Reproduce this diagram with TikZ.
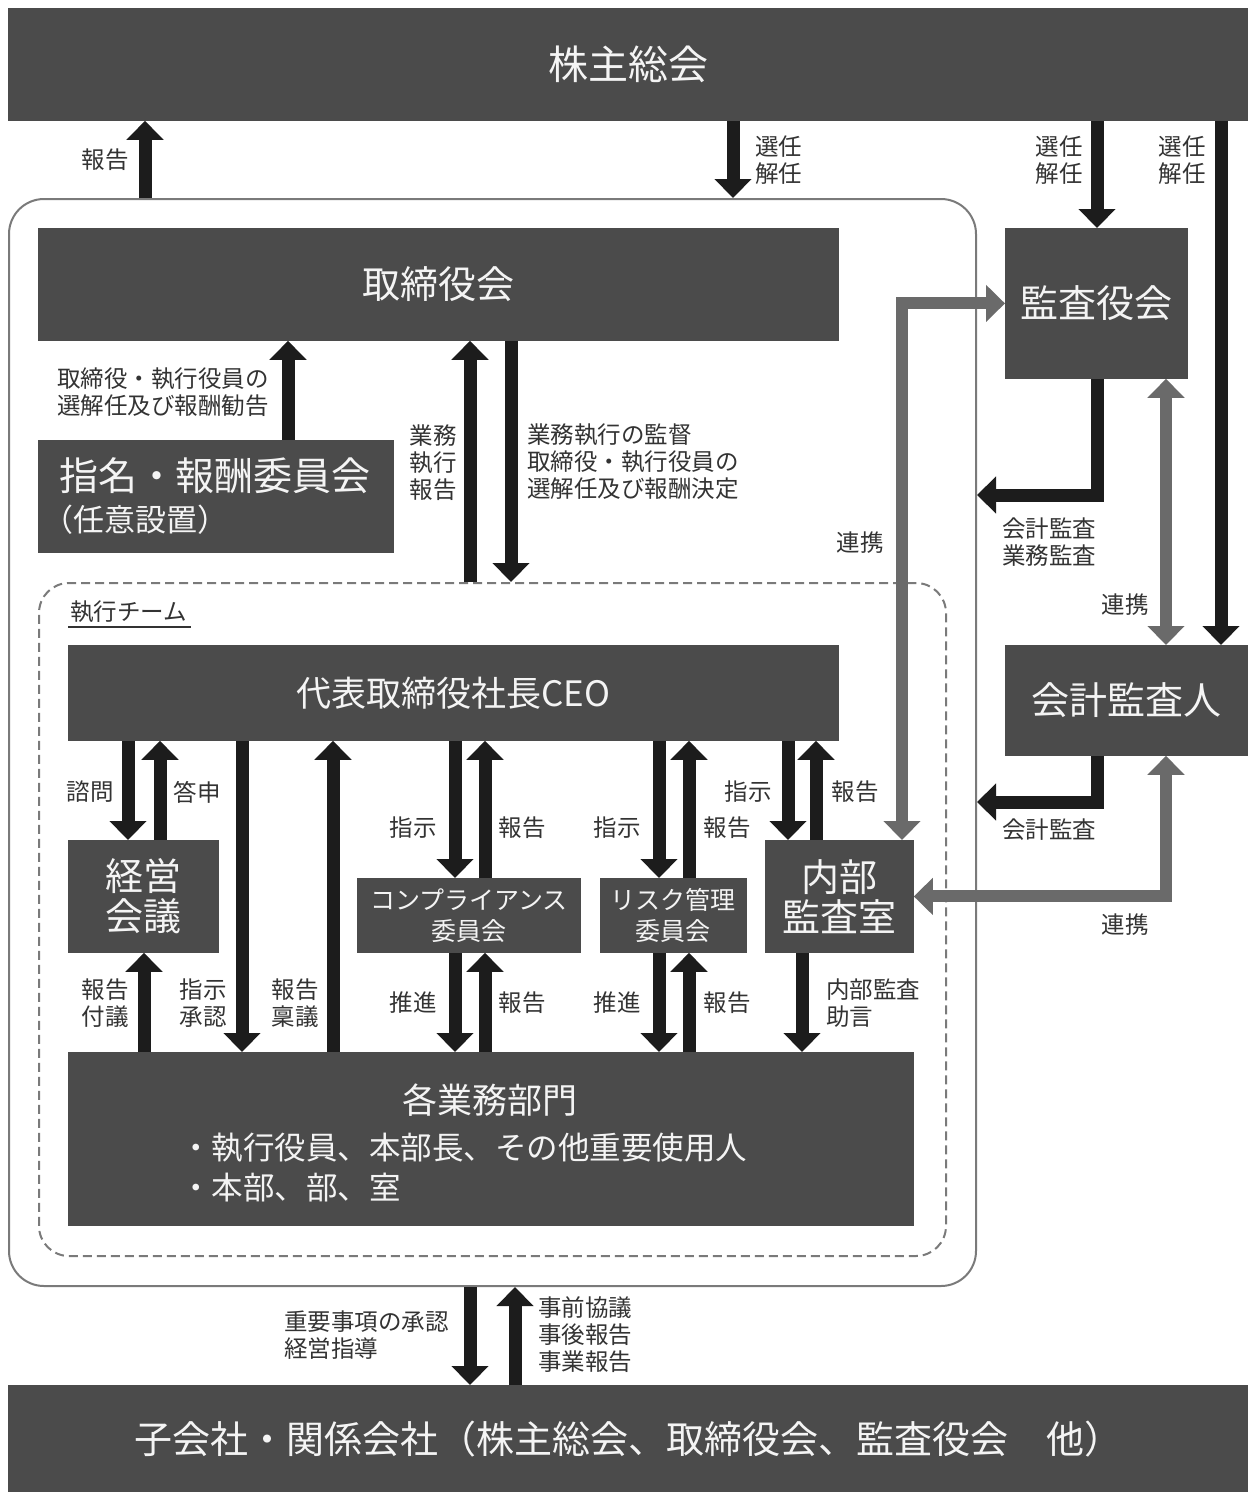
\documentclass[tikz,border=0pt]{standalone}
\usepackage{fontspec}
\setmainfont{Noto Sans CJK JP}
\usetikzlibrary{arrows.meta}
\definecolor{boxc}{HTML}{4B4B4B}
\definecolor{arrc}{HTML}{1C1C1C}
\definecolor{garrc}{HTML}{6A6A6A}
\definecolor{lblc}{HTML}{333333}
\definecolor{outc}{HTML}{7A7A7A}
\definecolor{boxtxt}{HTML}{F4F4F4}
\newcommand\myfs[2]{\fontsize{#1}{#2}\selectfont}
\begin{document}
\begin{tikzpicture}[x=1pt,y=-1pt,
  boxs/.style={fill=boxc, draw=boxc, line width=0.8pt, text=boxtxt, inner sep=0pt, anchor=north west, align=center},
  btxt/.style={text=boxtxt, inner sep=0pt},
  lbl/.style={text=lblc, font=\myfs{23.5}{27}, inner sep=0pt, align=center},
  arr/.style={draw=arrc, line width=13pt, line join=miter, -{Triangle[width=36pt,length=19pt]}},
  garr/.style={draw=garrc, line width=12pt, line join=miter, {Triangle[width=36pt,length=19pt]}-{Triangle[width=36pt,length=19pt]}}
]
\useasboundingbox (0,0) rectangle (1248,1492);
\fill[white] (0,0) rectangle (1248,1492);

% frames
\node[draw=outc, line width=2pt, rounded corners=35pt, minimum width=967pt, minimum height=1087pt, anchor=north west, inner sep=0pt] (outer) at (8,198) {};
\node[draw=outc, dash pattern=on 9pt off 5pt, line width=2pt, rounded corners=30pt, minimum width=907pt, minimum height=673pt, anchor=north west, inner sep=0pt] (team) at (38,582) {};

% boxes
\node[boxs, minimum width=1240pt, minimum height=112pt, font=\myfs{40}{44}] (top) at (8,8) {株主総会};
\node[boxs, minimum width=1240pt, minimum height=107pt, font=\myfs{38}{44}] (sub) at (8,1385) {子会社・関係会社（株主総会、取締役会、監査役会　他）};
\node[boxs, minimum width=800pt, minimum height=112pt, font=\myfs{38}{44}] (tori) at (38,228) {取締役会};
\node[boxs, minimum width=182pt, minimum height=150pt, font=\myfs{38}{44}] (kansa) at (1005,228) {監査役会};
\node[boxs, minimum width=243pt, minimum height=110pt, font=\myfs{38}{44}] (kaikei) at (1005,645) {会計監査人};
\node[boxs, minimum width=355pt, minimum height=112pt] (shimei) at (38,440) {};
\node[btxt, font=\myfs{39}{43}] (shimeiT) at (215,476) {指名・報酬委員会};
\node[btxt, font=\myfs{31}{36}, anchor=west] (shimeiS) at (42,520) {（任意設置）};
\node[boxs, minimum width=770pt, minimum height=95pt, font=\myfs{35}{40}] (ceo) at (68,645) {代表取締役社長CEO};
\node[boxs, minimum width=150pt, minimum height=112pt, font=\myfs{38}{40}] (keiei) at (68,840) {経営\\会議};
\node[boxs, minimum width=223pt, minimum height=74pt, font=\myfs{25}{31}] (comp) at (357,878) {コンプライアンス\\委員会};
\node[boxs, minimum width=146pt, minimum height=74pt, font=\myfs{25}{31}] (risk) at (600,878) {リスク管理\\委員会};
\node[boxs, minimum width=148pt, minimum height=112pt, font=\myfs{38}{40}] (naibu) at (765,840) {内部\\監査室};
\node[boxs, minimum width=845pt, minimum height=173pt] (bumon) at (68,1052) {};
\node[btxt, font=\myfs{35}{40}] (bumonT) at (490,1100) {各業務部門};
\node[btxt, font=\myfs{31.5}{40}, align=left, anchor=west] (bumonL) at (180,1167) {・執行役員、本部長、その他重要使用人\\・本部、部、室};

% labels
\node[lbl] (l1) at (105,160) {報告};
\node[lbl, align=left, anchor=west] (l2) at (755,160) {選任\\解任};
\node[lbl, align=left, anchor=east] (l3) at (1083,160) {選任\\解任};
\node[lbl, align=left, anchor=east] (l4) at (1206,160) {選任\\解任};
\node[lbl, align=left, anchor=west] (l5) at (57,392) {取締役・執行役員の\\選解任及び報酬勧告};
\node[lbl] (l6) at (433,463) {業務\\執行\\報告};
\node[lbl, align=left, anchor=west] (l7) at (527,462) {業務執行の監督\\取締役・執行役員の\\選解任及び報酬決定};
\node[lbl] (l8) at (860,543) {連携};
\node[lbl, align=left, anchor=west] (l9) at (1002,542) {会計監査\\業務監査};
\node[lbl] (l10) at (1125,605) {連携};
\node[lbl, anchor=west] (l11) at (1002,830) {会計監査};
\node[lbl] (l12) at (1125,925) {連携};
\node[lbl, anchor=west] (tl) at (70,612) {執行チーム};
\draw[draw=lblc, line width=2pt] ([yshift=-4pt,xshift=-2pt]tl.south west) -- ([yshift=-4pt,xshift=4pt]tl.south east);
\node[lbl] (l13) at (90,792) {諮問};
\node[lbl] (l14) at (197,792) {答申};
\node[lbl] (l15) at (413,828) {指示};
\node[lbl] (l16) at (522,828) {報告};
\node[lbl] (l17) at (617,828) {指示};
\node[lbl] (l18) at (727,828) {報告};
\node[lbl] (l19) at (748,792) {指示};
\node[lbl] (l20) at (855,792) {報告};
\node[lbl] (l21) at (105,1003) {報告\\付議};
\node[lbl] (l22) at (203,1003) {指示\\承認};
\node[lbl] (l23) at (295,1003) {報告\\稟議};
\node[lbl] (l24) at (413,1003) {推進};
\node[lbl] (l25) at (522,1003) {報告};
\node[lbl] (l26) at (617,1003) {推進};
\node[lbl] (l27) at (727,1003) {報告};
\node[lbl, align=left, anchor=west] (l28) at (826,1003) {内部監査\\助言};
\node[lbl, align=left, anchor=west] (l29) at (284,1335) {重要事項の承認\\経営指導};
\node[lbl, align=left, anchor=west] (l30) at (538,1335) {事前協議\\事後報告\\事業報告};

% arrows: shareholders
\draw[arr] (145,0 |- outer.north) -- (145,0 |- top.south);
\draw[arr] (733,0 |- top.south) -- (733,0 |- outer.north);
\draw[arr] (1097,0 |- top.south) -- (1097,0 |- kansa.north);
\draw[arr] (1221,0 |- top.south) -- (1221,0 |- kaikei.north);
% board
\draw[arr] (288,0 |- shimei.north) -- (288,0 |- tori.south);
\draw[arr] (470,0 |- team.north) -- (470,0 |- tori.south);
\draw[arr] (511,0 |- tori.south) -- (511,0 |- team.north);
% auditors
\draw[arr] (1097,0 |- kansa.south) |- (outer.east |- 0,495);
\draw[arr] (1097,0 |- kaikei.south) |- (outer.east |- 0,802);
\draw[garr] (kansa.west) -| (902,0 |- naibu.north);
\draw[garr] (1166,0 |- kansa.south) -- (1166,0 |- kaikei.north);
\draw[garr] (1166,0 |- kaikei.south) |- (naibu.east);
% CEO
\draw[arr] (128,0 |- ceo.south) -- (128,0 |- keiei.north);
\draw[arr] (160,0 |- keiei.north) -- (160,0 |- ceo.south);
\draw[arr] (242,0 |- ceo.south) -- (242,0 |- bumon.north);
\draw[arr] (333,0 |- bumon.north) -- (333,0 |- ceo.south);
\draw[arr] (144,0 |- bumon.north) -- (144,0 |- keiei.south);
\draw[arr] (455,0 |- ceo.south) -- (455,0 |- comp.north);
\draw[arr] (485,0 |- comp.north) -- (485,0 |- ceo.south);
\draw[arr] (455,0 |- comp.south) -- (455,0 |- bumon.north);
\draw[arr] (485,0 |- bumon.north) -- (485,0 |- comp.south);
\draw[arr] (659,0 |- ceo.south) -- (659,0 |- risk.north);
\draw[arr] (689,0 |- risk.north) -- (689,0 |- ceo.south);
\draw[arr] (659,0 |- risk.south) -- (659,0 |- bumon.north);
\draw[arr] (689,0 |- bumon.north) -- (689,0 |- risk.south);
\draw[arr] (788,0 |- ceo.south) -- (788,0 |- naibu.north);
\draw[arr] (816,0 |- naibu.north) -- (816,0 |- ceo.south);
\draw[arr] (802,0 |- naibu.south) -- (802,0 |- bumon.north);
% subsidiaries
\draw[arr] (470,0 |- outer.south) -- (470,0 |- sub.north);
\draw[arr] (515,0 |- sub.north) -- (515,0 |- outer.south);
\end{tikzpicture}
\end{document}
